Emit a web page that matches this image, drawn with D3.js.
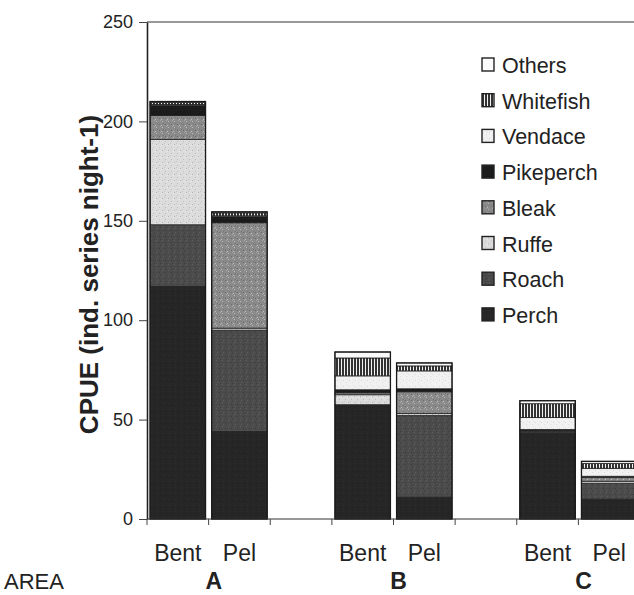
<!DOCTYPE html>
<html>
<head>
<meta charset="utf-8">
<script src="https://cdn.jsdelivr.net/npm/d3@7"></script>
<style>
  html, body { margin: 0; padding: 0; background: #fff; }
  svg { display: block; font-family: "Liberation Sans", Arial, Helvetica, sans-serif; }
</style>
</head>
<body>
<svg id="chart" width="634" height="595"></svg>
<script>
// Catch per unit effort by area (A, B, C) and habitat (benthic / pelagic gillnets)
const areas = ["A", "B", "C"];
const habitats = ["Bent", "Pel"];
const species = ["Perch", "Roach", "Ruffe", "Bleak", "Pikeperch", "Vendace", "Whitefish", "Others"];
// values per species, in order: A-Bent, A-Pel, B-Bent, B-Pel, C-Bent, C-Pel
const perch     = [117, 44, 57, 11, 43, 10];
const roach     = [31, 51, 0.5, 41, 0.5, 8];
const ruffe     = [43, 1, 5, 1, 0.5, 1];
const bleak     = [12, 53, 1, 11, 0.5, 2];
const pikeperch = [5, 3, 1.5, 1.5, 0.5, 0.5];
const vendace   = [0.5, 0.5, 7, 9, 6, 4];
const whitefish = [1, 1.5, 9, 2.5, 7, 2.5];
const others    = [0.5, 0.5, 3, 1.5, 1.5, 1];
const yTicks = [0, 50, 100, 150, 200, 250];
const yTitle = "CPUE (ind. series night-1)";
const areaLabel = "AREA";

const seriesValues = [perch, roach, ruffe, bleak, pikeperch, vendace, whitefish, others];

// slots along the category axis, with an empty slot between areas
const slots = [];
areas.forEach((a, i) => {
  habitats.forEach(h => slots.push(a + "|" + h));
  if (i < areas.length - 1) slots.push(a + "|gap");
});

const rows = [];
areas.forEach((a, ai) => habitats.forEach((h, hi) => {
  const r = { key: a + "|" + h, area: a, habitat: h };
  species.forEach((s, si) => { r[s] = seriesValues[si][ai * habitats.length + hi]; });
  rows.push(r);
}));

const svg = d3.select("#chart");
const plot = { left: 147, right: 640, top: 22, bottom: 519 };

const x = d3.scaleBand().domain(slots).range([plot.left, plot.right])
  .paddingInner(0.1).paddingOuter(0.05);
const y = d3.scaleLinear().domain([0, 250]).range([plot.bottom, plot.top]);

// fill textures for each species
const defs = svg.append("defs");
function speckle(id, base, dots) {
  const p = defs.append("pattern").attr("id", id).attr("patternUnits", "userSpaceOnUse")
    .attr("width", 6).attr("height", 6);
  p.append("rect").attr("width", 6).attr("height", 6).attr("fill", base);
  dots.forEach(([dx, dy, c]) => p.append("rect").attr("x", dx).attr("y", dy)
    .attr("width", 1).attr("height", 1).attr("fill", c));
}
speckle("p-perch", "#262626", [[1, 1, "#303030"], [4, 3, "#1e1e1e"]]);
speckle("p-roach", "#4b4b4b", [[0, 0, "#626262"], [3, 2, "#3a3a3a"], [1, 4, "#5d5d5d"], [4, 5, "#3e3e3e"]]);
speckle("p-ruffe", "#dcdcdc", [[0, 0, "#b4b4b4"], [3, 3, "#bdbdbd"], [5, 1, "#ececec"], [2, 5, "#c6c6c6"]]);
speckle("p-bleak", "#8a8a8a", [[0, 1, "#b8b8b8"], [3, 4, "#6a6a6a"], [4, 0, "#a6a6a6"], [1, 3, "#777"], [5, 5, "#c0c0c0"]]);
speckle("p-pike", "#1b1b1b", [[2, 2, "#262626"]]);
speckle("p-vendace", "#f1f1f1", [[1, 2, "#d6d6d6"], [4, 4, "#dedede"], [5, 1, "#e2e2e2"]]);
const wf = defs.append("pattern").attr("id", "p-white").attr("patternUnits", "userSpaceOnUse")
  .attr("width", 3).attr("height", 3);
wf.append("rect").attr("width", 3).attr("height", 3).attr("fill", "#f2f2f2");
wf.append("rect").attr("width", 2).attr("height", 3).attr("fill", "#333");
speckle("p-others", "#fafafa", []);

const fills = d3.scaleOrdinal().domain(species).range([
  "url(#p-perch)", "url(#p-roach)", "url(#p-ruffe)", "url(#p-bleak)",
  "url(#p-pike)", "url(#p-vendace)", "url(#p-white)", "url(#p-others)"
]);

const stack = d3.stack().keys(species);
const layers = stack(rows);

// stacked bars
const g = svg.append("g");
g.selectAll("g.layer").data(layers).join("g")
  .attr("class", "layer")
  .attr("fill", d => fills(d.key))
  .selectAll("rect").data(d => d).join("rect")
  .attr("x", d => x(d.data.key))
  .attr("width", x.bandwidth())
  .attr("y", d => y(d[1]))
  .attr("height", d => y(d[0]) - y(d[1]))
  .attr("stroke", "#222").attr("stroke-width", 0.8);

// bar outlines
g.selectAll("rect.outline").data(rows).join("rect")
  .attr("class", "outline")
  .attr("x", d => x(d.key))
  .attr("width", x.bandwidth())
  .attr("y", d => y(d3.sum(species, s => d[s])))
  .attr("height", d => y(0) - y(d3.sum(species, s => d[s])))
  .attr("fill", "none").attr("stroke", "#1a1a1a").attr("stroke-width", 1.3);

// frame: top border line
svg.append("line").attr("x1", plot.left).attr("x2", plot.right)
  .attr("y1", y(250)).attr("y2", y(250)).attr("stroke", "#333").attr("stroke-width", 1.2);

// y axis
const yAxis = svg.append("g").attr("transform", `translate(${plot.left},0)`)
  .call(d3.axisLeft(y).tickValues(yTicks).tickSize(8).tickPadding(6).tickSizeOuter(0));
yAxis.select(".domain").attr("stroke", "#222").attr("stroke-width", 1.6);
yAxis.selectAll(".tick line").attr("stroke", "#444");
yAxis.selectAll(".tick text").attr("font-size", 18).attr("fill", "#222")
  .attr("font-family", "'Liberation Sans', Arial, sans-serif");

// x axis line and slot boundary ticks
const step = x.step();
const boundaries = d3.range(slots.length + 1).map(i =>
  (i < slots.length ? x(slots[i]) : x(slots[slots.length - 1]) + x.bandwidth() + step * x.paddingInner())
  - step * x.paddingInner() / 2);
svg.append("line").attr("x1", plot.left).attr("x2", plot.right)
  .attr("y1", y(0)).attr("y2", y(0)).attr("stroke", "#333").attr("stroke-width", 1.2);
svg.selectAll("line.xtick").data(boundaries).join("line")
  .attr("class", "xtick")
  .attr("x1", d => d).attr("x2", d => d)
  .attr("y1", y(0)).attr("y2", y(0) + 6)
  .attr("stroke", "#444").attr("stroke-width", 1);

// habitat labels
svg.selectAll("text.hab").data(rows).join("text")
  .attr("class", "hab")
  .attr("x", d => x(d.key) + x.bandwidth() / 2)
  .attr("y", 561)
  .attr("text-anchor", "middle")
  .attr("font-size", 23).attr("fill", "#222")
  .text(d => d.habitat);

// area labels
svg.selectAll("text.area").data(areas).join("text")
  .attr("class", "area")
  .attr("x", a => x(a + "|Pel") + 2)
  .attr("y", 589)
  .attr("text-anchor", "middle")
  .attr("font-size", 23).attr("font-weight", "bold").attr("fill", "#222")
  .text(a => a);
svg.append("text").attr("x", 4).attr("y", 589)
  .attr("font-size", 22).attr("fill", "#222").text(areaLabel);

// y title
svg.append("text")
  .attr("transform", `translate(98,${(plot.top + plot.bottom) / 2 + 4}) rotate(-90)`)
  .attr("text-anchor", "middle")
  .attr("font-size", 26).attr("font-weight", "bold").attr("fill", "#222")
  .text(yTitle);

// legend (top entry is the top of the stack)
const legendItems = species.slice().reverse();
const leg = svg.append("g").attr("transform", "translate(482,65)");
const li = leg.selectAll("g").data(legendItems).join("g")
  .attr("transform", (d, i) => `translate(0,${i * 35.7})`);
li.append("rect").attr("x", 0).attr("y", -7).attr("width", 12).attr("height", 13)
  .attr("fill", d => fills(d)).attr("stroke", "#222").attr("stroke-width", 1.4);
li.append("text").attr("x", 20).attr("y", 8)
  .attr("font-size", 21.5).attr("fill", "#222").text(d => d);
</script>
</body>
</html>
